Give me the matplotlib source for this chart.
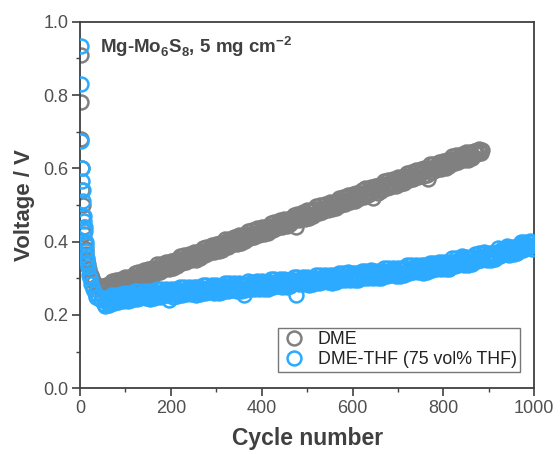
import matplotlib
matplotlib.use("Agg")
import matplotlib.pyplot as plt
from matplotlib.ticker import MultipleLocator, FormatStrFormatter

plt.rcParams['font.family'] = ['Liberation Sans', 'DejaVu Sans']
plt.rcParams['mathtext.fontset'] = 'custom'
plt.rcParams['mathtext.rm'] = 'Liberation Sans'
plt.rcParams['mathtext.bf'] = 'Liberation Sans:bold'

# ---------------- DME series ----------------
dme_early_cycles = [1, 2, 3, 4, 5, 6, 7, 8, 9, 10, 12, 14, 16, 18, 20, 23, 26, 30, 35, 40, 45]
dme_early_voltage = [0.91, 0.78, 0.68, 0.60, 0.54, 0.50, 0.47, 0.44, 0.42, 0.40, 0.38, 0.365, 0.35,
                     0.34, 0.325, 0.31, 0.30, 0.29, 0.28, 0.275, 0.272]
# cycles 50, 55, ..., 885
dme_cycles_a = list(range(50, 886, 5))
dme_voltage_a = [
    0.280, 0.260, 0.279, 0.271, 0.292, 0.272, 0.286, 0.283, 0.299, 0.280,
    0.303, 0.283, 0.301, 0.294, 0.315, 0.295, 0.308, 0.306, 0.322, 0.303,
    0.325, 0.306, 0.324, 0.316, 0.338, 0.318, 0.331, 0.328, 0.345, 0.326,
    0.348, 0.329, 0.347, 0.339, 0.360, 0.341, 0.354, 0.351, 0.367, 0.349,
    0.371, 0.351, 0.370, 0.362, 0.383, 0.363, 0.377, 0.374, 0.390, 0.371,
    0.394, 0.374, 0.392, 0.385, 0.406, 0.386, 0.399, 0.397, 0.413, 0.394,
    0.417, 0.397, 0.415, 0.407, 0.429, 0.409, 0.422, 0.419, 0.436, 0.417,
    0.439, 0.420, 0.438, 0.430, 0.451, 0.432, 0.445, 0.442, 0.458, 0.440,
    0.462, 0.442, 0.461, 0.453, 0.474, 0.440, 0.468, 0.465, 0.481, 0.462,
    0.485, 0.465, 0.483, 0.476, 0.497, 0.477, 0.490, 0.488, 0.504, 0.485,
    0.508, 0.488, 0.506, 0.498, 0.520, 0.500, 0.513, 0.510, 0.527, 0.508,
    0.530, 0.511, 0.529, 0.521, 0.542, 0.523, 0.536, 0.533, 0.549, 0.518,
    0.553, 0.533, 0.552, 0.544, 0.565, 0.545, 0.559, 0.556, 0.572, 0.553,
    0.576, 0.556, 0.574, 0.567, 0.588, 0.568, 0.581, 0.579, 0.595, 0.576,
    0.599, 0.579, 0.597, 0.572, 0.611, 0.591, 0.604, 0.601, 0.618, 0.599,
    0.621, 0.602, 0.620, 0.612, 0.633, 0.614, 0.627, 0.624, 0.640, 0.622,
    0.644, 0.624, 0.643, 0.635, 0.646, 0.640, 0.645, 0.650]
# cycles 53, 58, ..., 883
dme_cycles_b = list(range(53, 884, 5))
dme_voltage_b = [
    0.267, 0.281, 0.265, 0.284, 0.278, 0.294, 0.277, 0.296, 0.284, 0.294,
    0.290, 0.304, 0.287, 0.307, 0.301, 0.317, 0.299, 0.319, 0.307, 0.317,
    0.312, 0.327, 0.310, 0.329, 0.324, 0.340, 0.322, 0.341, 0.330, 0.340,
    0.335, 0.350, 0.333, 0.352, 0.346, 0.363, 0.345, 0.364, 0.352, 0.363,
    0.358, 0.372, 0.356, 0.375, 0.369, 0.385, 0.368, 0.387, 0.375, 0.385,
    0.381, 0.395, 0.378, 0.398, 0.392, 0.408, 0.390, 0.410, 0.398, 0.408,
    0.404, 0.418, 0.401, 0.420, 0.415, 0.431, 0.413, 0.432, 0.421, 0.431,
    0.426, 0.441, 0.424, 0.443, 0.437, 0.454, 0.436, 0.455, 0.443, 0.454,
    0.449, 0.463, 0.447, 0.466, 0.460, 0.476, 0.459, 0.478, 0.466, 0.476,
    0.472, 0.486, 0.469, 0.489, 0.483, 0.499, 0.481, 0.501, 0.489, 0.499,
    0.495, 0.509, 0.492, 0.511, 0.506, 0.522, 0.504, 0.523, 0.512, 0.522,
    0.517, 0.532, 0.515, 0.534, 0.528, 0.545, 0.527, 0.546, 0.534, 0.545,
    0.540, 0.554, 0.538, 0.557, 0.551, 0.567, 0.550, 0.569, 0.557, 0.567,
    0.563, 0.577, 0.560, 0.580, 0.574, 0.590, 0.572, 0.592, 0.580, 0.590,
    0.586, 0.600, 0.583, 0.602, 0.597, 0.613, 0.595, 0.614, 0.603, 0.613,
    0.608, 0.623, 0.606, 0.625, 0.619, 0.636, 0.618, 0.637, 0.625, 0.636,
    0.631, 0.645, 0.629, 0.648, 0.642, 0.652, 0.641]

# ---------------- DME-THF series ----------------
thf_early_cycles = [1, 2, 3, 4, 5, 6, 7, 8, 9, 10, 11, 12, 13, 14, 15, 16, 18, 20, 22, 25, 28,
                    32, 36, 40, 45]
thf_early_voltage = [0.935, 0.83, 0.675, 0.60, 0.565, 0.54, 0.51, 0.47, 0.455, 0.44, 0.43, 0.40,
                     0.39, 0.375, 0.355, 0.345, 0.33, 0.31, 0.30, 0.285, 0.27, 0.26, 0.25, 0.245, 0.24]
# cycles 50, 55, ..., 1000
thf_cycles_a = list(range(50, 1001, 5))
thf_voltage_a = [
    0.245, 0.224, 0.242, 0.233, 0.254, 0.233, 0.246, 0.242, 0.258, 0.238,
    0.260, 0.239, 0.255, 0.246, 0.265, 0.244, 0.255, 0.251, 0.265, 0.245,
    0.266, 0.244, 0.261, 0.251, 0.271, 0.249, 0.261, 0.256, 0.271, 0.240,
    0.272, 0.250, 0.267, 0.257, 0.277, 0.255, 0.267, 0.262, 0.277, 0.256,
    0.277, 0.255, 0.272, 0.262, 0.282, 0.260, 0.272, 0.267, 0.282, 0.261,
    0.282, 0.260, 0.277, 0.267, 0.287, 0.265, 0.277, 0.272, 0.287, 0.266,
    0.287, 0.265, 0.255, 0.272, 0.292, 0.270, 0.282, 0.277, 0.292, 0.271,
    0.292, 0.270, 0.287, 0.277, 0.297, 0.276, 0.288, 0.283, 0.298, 0.277,
    0.298, 0.276, 0.293, 0.283, 0.303, 0.255, 0.294, 0.289, 0.304, 0.283,
    0.303, 0.282, 0.299, 0.289, 0.309, 0.288, 0.300, 0.295, 0.310, 0.289,
    0.309, 0.288, 0.305, 0.295, 0.315, 0.294, 0.306, 0.301, 0.316, 0.295,
    0.315, 0.294, 0.311, 0.301, 0.321, 0.300, 0.312, 0.307, 0.322, 0.301,
    0.321, 0.300, 0.317, 0.307, 0.327, 0.306, 0.318, 0.313, 0.328, 0.307,
    0.328, 0.307, 0.324, 0.315, 0.335, 0.314, 0.327, 0.322, 0.337, 0.316,
    0.336, 0.315, 0.332, 0.323, 0.343, 0.322, 0.335, 0.330, 0.345, 0.324,
    0.345, 0.324, 0.342, 0.333, 0.355, 0.334, 0.348, 0.344, 0.360, 0.336,
    0.357, 0.336, 0.354, 0.345, 0.366, 0.346, 0.360, 0.356, 0.372, 0.349,
    0.370, 0.350, 0.369, 0.361, 0.382, 0.362, 0.377, 0.373, 0.387, 0.364,
    0.385, 0.365, 0.384, 0.376, 0.398, 0.378, 0.393, 0.389, 0.402, 0.379,
    0.390]
# cycles 53, 58, ..., 998
thf_cycles_b = list(range(53, 999, 5))
thf_voltage_b = [
    0.231, 0.244, 0.227, 0.245, 0.239, 0.254, 0.236, 0.254, 0.242, 0.251,
    0.246, 0.259, 0.240, 0.258, 0.250, 0.265, 0.245, 0.263, 0.249, 0.258,
    0.252, 0.264, 0.246, 0.263, 0.256, 0.270, 0.251, 0.268, 0.255, 0.264,
    0.258, 0.270, 0.252, 0.269, 0.262, 0.276, 0.257, 0.274, 0.261, 0.269,
    0.263, 0.275, 0.257, 0.274, 0.267, 0.281, 0.262, 0.279, 0.266, 0.274,
    0.268, 0.280, 0.262, 0.279, 0.272, 0.286, 0.267, 0.284, 0.271, 0.279,
    0.273, 0.285, 0.267, 0.284, 0.277, 0.291, 0.272, 0.289, 0.276, 0.284,
    0.278, 0.290, 0.272, 0.289, 0.283, 0.297, 0.278, 0.295, 0.282, 0.290,
    0.284, 0.296, 0.278, 0.295, 0.289, 0.303, 0.284, 0.301, 0.287, 0.296,
    0.289, 0.302, 0.283, 0.301, 0.295, 0.309, 0.290, 0.307, 0.293, 0.302,
    0.295, 0.308, 0.289, 0.307, 0.301, 0.315, 0.296, 0.313, 0.299, 0.308,
    0.301, 0.314, 0.295, 0.313, 0.307, 0.321, 0.302, 0.319, 0.305, 0.314,
    0.307, 0.320, 0.301, 0.319, 0.313, 0.327, 0.308, 0.325, 0.311, 0.320,
    0.314, 0.327, 0.309, 0.327, 0.321, 0.335, 0.317, 0.334, 0.320, 0.329,
    0.322, 0.335, 0.317, 0.335, 0.329, 0.343, 0.325, 0.342, 0.328, 0.337,
    0.331, 0.344, 0.326, 0.345, 0.339, 0.354, 0.336, 0.356, 0.340, 0.349,
    0.343, 0.356, 0.339, 0.358, 0.353, 0.368, 0.351, 0.369, 0.352, 0.362,
    0.356, 0.370, 0.352, 0.372, 0.367, 0.381, 0.365, 0.382, 0.369, 0.377,
    0.371, 0.386, 0.369, 0.390, 0.385, 0.399, 0.383, 0.398, 0.387, 0.392]

dme_cycles = dme_early_cycles + dme_cycles_b + dme_cycles_a
dme_voltage = dme_early_voltage + dme_voltage_b + dme_voltage_a
thf_cycles = thf_early_cycles + thf_cycles_b + thf_cycles_a
thf_voltage = thf_early_voltage + thf_voltage_b + thf_voltage_a

gray = '#808080'
blue = '#2BAAFF'
txt = '#404040'

fig = plt.figure(figsize=(5.6, 4.54), dpi=100)
ax = fig.add_axes([0.143, 0.145, 0.811, 0.807])

ax.plot(dme_cycles, dme_voltage, 'o', mfc='none', mec=gray, mew=1.8, ms=10, label='DME', zorder=2)
ax.plot(thf_cycles, thf_voltage, 'o', mfc='none', mec=blue, mew=1.8, ms=10,
        label='DME-THF (75 vol% THF)', zorder=3)

ax.set_xlim(0, 1000)
ax.set_ylim(0, 1.0)
ax.xaxis.set_major_locator(MultipleLocator(200))
ax.xaxis.set_minor_locator(MultipleLocator(100))
ax.yaxis.set_major_locator(MultipleLocator(0.2))
ax.yaxis.set_minor_locator(MultipleLocator(0.1))
ax.yaxis.set_major_formatter(FormatStrFormatter('%.1f'))
ax.tick_params(which='major', direction='out', length=5.5, width=1.2, labelsize=13,
               colors=txt, labelcolor='#505050', pad=3)
ax.tick_params(which='minor', direction='out', length=3, width=1.0, colors=txt)
for s in ax.spines.values():
    s.set_linewidth(1.3)
    s.set_color('#404040')

ax.set_xlabel('Cycle number', fontsize=16.5, fontweight='bold', color=txt, labelpad=7)
ax.set_ylabel('Voltage / V', fontsize=16, fontweight='bold', color=txt, labelpad=6)

ax.text(0.044, 0.965, r'Mg-Mo$_{\mathbf{6}}$S$_{\mathbf{8}}$, 5 mg cm$^{\mathbf{-2}}$',
        transform=ax.transAxes, fontsize=13.5, fontweight='bold', color=txt, va='top', ha='left')

leg = ax.legend(loc='lower right', bbox_to_anchor=(0.969, 0.045), fontsize=12.8, frameon=True, fancybox=False,
                edgecolor='#555555', handletextpad=0.6, borderpad=0.2, labelspacing=0.15, handlelength=1.4,
                borderaxespad=0)
leg.get_frame().set_linewidth(1.0)
for t in leg.get_texts():
    t.set_color('#222222')

fig.savefig('out.png', dpi=100)
